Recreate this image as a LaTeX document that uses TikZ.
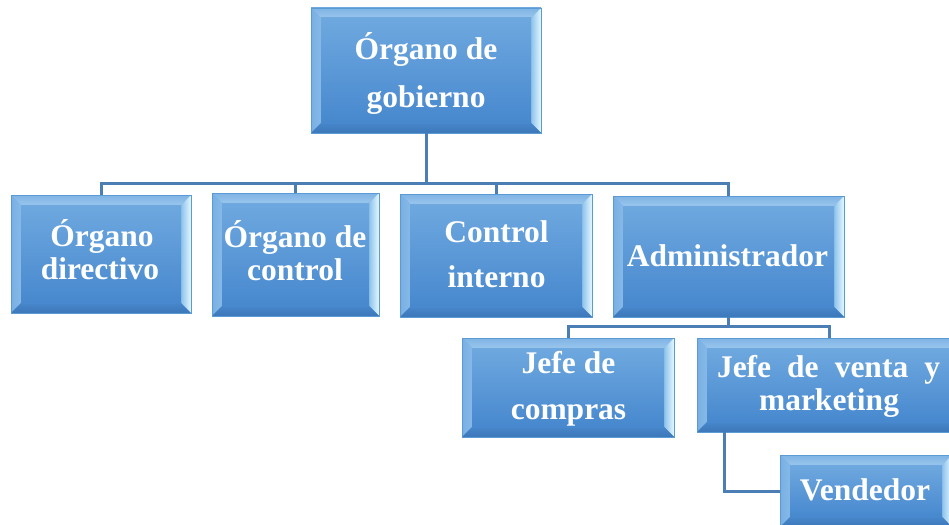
\documentclass[tikz,border=0pt]{standalone}
\usepackage{fontspec}
\setmainfont{Liberation Serif}
\usetikzlibrary{calc}
\definecolor{facetop}{HTML}{6EA8DF}
\definecolor{facebot}{HTML}{4788CE}
\definecolor{bevtopA}{HTML}{80B4E5}
\definecolor{bevtopB}{HTML}{98C5EC}
\definecolor{bevleftA}{HTML}{78AFE3}
\definecolor{bevleftB}{HTML}{86B9E8}
\definecolor{bevrightA}{HTML}{8DC2EC}
\definecolor{bevrightB}{HTML}{E4F8FF}
\definecolor{bevbotA}{HTML}{4786CA}
\definecolor{bevbotB}{HTML}{3C77B9}
\definecolor{boxedge}{HTML}{5B9BD5}
\definecolor{conn}{HTML}{4A7EB5}
\tikzset{
  lbl/.style={text=white,font=\fontsize{31.5}{37}\selectfont\bfseries,anchor=base,inner sep=0pt},
  link/.style={draw=conn,line width=3pt},
  boxnode/.style={draw=none,inner sep=0pt,outer sep=0pt}
}
\newcommand{\bevbox}[5]{%
  \node[boxnode,minimum width={(#4-#2)*1pt},minimum height={(#5-#3)*1pt}] (#1) at ({(#2+#4)/2},{(#3+#5)/2}) {};
  \shade[top color=facetop,bottom color=facebot] (#2,#3) rectangle (#4,#5);
  \shade[top color=bevtopA,bottom color=bevtopB] (#2,#3) -- (#4,#3) -- ({#4-10},{#3+10}) -- ({#2+10},{#3+10}) -- cycle;
  \shade[left color=bevleftA,right color=bevleftB] (#2,#3) -- ({#2+10},{#3+10}) -- ({#2+10},{#5-10}) -- (#2,#5) -- cycle;
  \shade[left color=bevrightA,right color=bevrightB] (#4,#3) -- ({#4-10},{#3+10}) -- ({#4-10},{#5-10}) -- (#4,#5) -- cycle;
  \shade[top color=bevbotA,bottom color=bevbotB] (#2,#5) -- (#4,#5) -- ({#4-10},{#5-10}) -- ({#2+10},{#5-10}) -- cycle;
  \shade[top color=facetop,bottom color=facebot] ({#2+10},{#3+10}) rectangle ({#4-10},{#5-10});
  \draw[boxedge,line width=0.6pt] (#2,#3) rectangle (#4,#5);
}
\begin{document}
\begin{tikzpicture}[x=1pt,y=-1pt]
\useasboundingbox (0,0) rectangle (949,524);
\clip (0,0) rectangle (949,524);
% boxes
\bevbox{b0}{311}{8}{541}{133}
\bevbox{b1}{11}{195}{191}{313}
\bevbox{b2}{212}{193}{379}{316}
\bevbox{b3}{400}{194}{592}{317}
\bevbox{b4}{613}{196}{844}{317}
\bevbox{b5}{462}{338}{674}{437}
\bevbox{b6}{697}{338}{962}{432}
\bevbox{b7}{780}{455}{952}{527}
% connectors
\coordinate (bus1) at (426,183);
\coordinate (bus2) at (728.5,326);
\draw[link] (b0.south) -- (bus1);
\draw[link] (bus1) -| (b1.north);
\draw[link] (bus1) -| (b2.north);
\draw[link] (bus1) -| (b3.north);
\draw[link] (bus1) -| (b4.north);
\draw[link] (b4.south) -- (bus2);
\draw[link] (bus2) -| (b5.north);
\draw[link] (bus2) -| (b6.north);
\draw[link] ([xshift=27pt]b6.south west) |- (b7.west);
% labels
\node[lbl] (t0a) at (426,59.5) {Órgano de};
\node[lbl] (t0b) at (426,107.5) {gobierno};
\node[lbl] (t1a) at (102,246) {Órgano};
\node[lbl] (t1b) at (100,279) {directivo};
\node[lbl] (t2a) at (295,247) {Órgano de};
\node[lbl] (t2b) at (295,280) {control};
\node[lbl] (t3a) at (496.5,242) {Control};
\node[lbl] (t3b) at (496.5,287) {interno};
\node[lbl] (t4) at (727.5,266) {Administrador};
\node[lbl] (t5a) at (568.5,373) {Jefe de};
\node[lbl] (t5b) at (568.5,419) {compras};
\node[lbl] (t6a) at (828.5,377) {\makebox[223pt][s]{Jefe de venta y}};
\node[lbl] (t6b) at (829,410) {marketing};
\node[lbl] (t7) at (865,500) {Vendedor};
\end{tikzpicture}
\end{document}
